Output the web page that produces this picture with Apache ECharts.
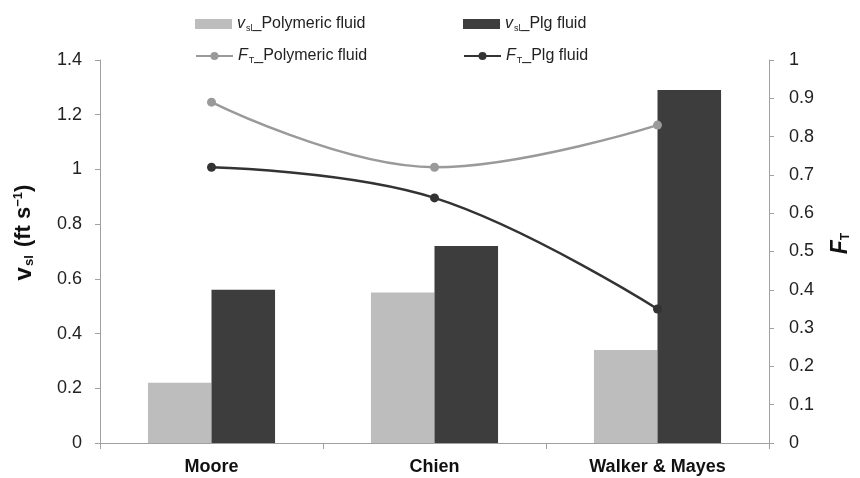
<!DOCTYPE html>
<html>
<head>
<meta charset="utf-8">
<script src="https://cdn.jsdelivr.net/npm/echarts@6/dist/echarts.min.js"></script>
<style>html,body{margin:0;padding:0;background:#fff}#c{width:860px;height:478px}</style>
</head>
<body>
<div id="c"></div>
<script>
var categories = ['Moore', 'Chien', 'Walker & Mayes'];
var vslPolymeric = [0.22, 0.55, 0.34];
var vslPlg = [0.56, 0.72, 1.29];
var ftPolymeric = [0.89, 0.72, 0.83];
var ftPlg = [0.72, 0.64, 0.35];
var leftTicks = [0, 0.2, 0.4, 0.6, 0.8, 1, 1.2, 1.4];
var rightTicks = [0, 0.1, 0.2, 0.3, 0.4, 0.5, 0.6, 0.7, 0.8, 0.9, 1];

var FONT = '"Liberation Sans", Arial, sans-serif';
var legendRich = {
  it: {fontStyle: 'italic', fontSize: 16, color: '#222', fontFamily: FONT},
  sub: {fontSize: 9, color: '#222', fontFamily: FONT, padding: [10, 0, 0, 1]},
  t: {fontSize: 16, color: '#222', fontFamily: FONT}
};
function legendFmt(name) {
  var p = name.split('|');
  return '{it|' + p[0] + '}{sub|' + p[1] + '}{t|_' + p[2] + '}';
}
var names = ['v|sl|Polymeric fluid', 'v|sl|Plg fluid', 'F|T|Polymeric fluid', 'F|T|Plg fluid'];
var legPos = [[190, 11], [458, 11], [190, 43], [458, 43]];
var legIcons = ['rect', 'rect', null, null];
var legends = names.map(function (n, i) {
  var item = {name: n};
  if (legIcons[i]) item.icon = legIcons[i];
  return {
    data: [item], left: legPos[i][0], top: legPos[i][1],
    itemWidth: 37, itemHeight: 10, itemGap: 10,
    formatter: legendFmt,
    textStyle: {rich: legendRich, fontFamily: FONT, fontSize: 16, color: '#222'}
  };
});

var axisLineStyle = {color: '#a0a0a0', width: 1};
var chart = echarts.init(document.getElementById('c'));
chart.setOption({
  animation: false,
  textStyle: {fontFamily: FONT},
  legend: legends,
  grid: {left: 100, right: 86, top: 60, bottom: 35},
  xAxis: {
    type: 'category', data: categories,
    axisLine: {lineStyle: axisLineStyle},
    axisTick: {show: true, length: 6, lineStyle: axisLineStyle},
    axisLabel: {fontSize: 18, fontWeight: 'bold', color: '#111', margin: 15, fontFamily: FONT}
  },
  yAxis: [{
    type: 'value', min: leftTicks[0], max: leftTicks[leftTicks.length - 1], interval: 0.2,
    axisLine: {show: true, lineStyle: axisLineStyle},
    axisTick: {show: true, length: 5, lineStyle: axisLineStyle},
    splitLine: {show: false},
    axisLabel: {fontSize: 18, color: '#222', margin: 18, fontFamily: FONT},
    name: '{gap|}{v|v}{s|sl}{t| (ft s}{sup|−1}{t|)}',
    nameLocation: 'middle', nameGap: 64, nameRotate: 90,
    nameTextStyle: {
      rich: {
        gap: {width: 38, fontSize: 20},
        v: {fontSize: 24, fontWeight: 'bold', color: '#111', fontFamily: FONT},
        s: {fontSize: 13, fontWeight: 'bold', color: '#111', fontFamily: FONT, padding: [11, 2, 0, 1]},
        t: {fontSize: 22, fontWeight: 'bold', color: '#111', fontFamily: FONT},
        sup: {fontSize: 13, fontWeight: 'bold', color: '#111', fontFamily: FONT, padding: [0, 0, 11, 0]}
      }
    }
  }, {
    type: 'value', min: rightTicks[0], max: rightTicks[rightTicks.length - 1], interval: 0.1,
    position: 'right',
    axisLine: {show: true, lineStyle: axisLineStyle},
    axisTick: {show: true, length: 5, lineStyle: axisLineStyle},
    splitLine: {show: false},
    axisLabel: {fontSize: 18, color: '#222', margin: 20, fontFamily: FONT},
    name: '{gap|}{f|F}{s|T}',
    nameLocation: 'middle', nameGap: 60, nameRotate: 90,
    nameTextStyle: {
      rich: {
        gap: {width: 16, fontSize: 20},
        f: {fontSize: 23, fontWeight: 'bold', fontStyle: 'italic', color: '#111', fontFamily: FONT},
        s: {fontSize: 12, fontWeight: 'bold', color: '#111', fontFamily: FONT, padding: [11, 0, 0, 0]}
      }
    }
  }],
  series: [{
    name: names[0], type: 'bar', data: vslPolymeric, yAxisIndex: 0,
    itemStyle: {color: '#bdbdbd'}, barGap: '0%', barCategoryGap: '43%'
  }, {
    name: names[1], type: 'bar', data: vslPlg, yAxisIndex: 0,
    itemStyle: {color: '#3d3d3d'}, barGap: '0%', barCategoryGap: '43%'
  }, {
    name: names[2], type: 'line', data: ftPolymeric, yAxisIndex: 1,
    smooth: 0.4, symbol: 'circle', symbolSize: 9,
    lineStyle: {color: '#9a9a9a', width: 2.5}, itemStyle: {color: '#9a9a9a'}
  }, {
    name: names[3], type: 'line', data: ftPlg, yAxisIndex: 1,
    smooth: 0.4, symbol: 'circle', symbolSize: 9,
    lineStyle: {color: '#333333', width: 2.5}, itemStyle: {color: '#333333'}
  }]
});
</script>
</body>
</html>
